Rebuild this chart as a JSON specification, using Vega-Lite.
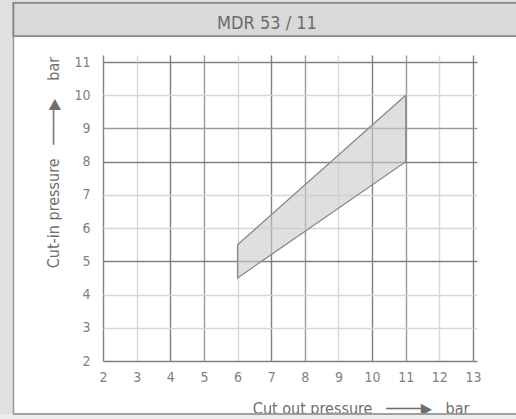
{
  "$schema": "https://vega.github.io/schema/vega-lite/v6.json",
  "width": 370,
  "height": 299,
  "autosize": {"type": "none"},
  "padding": {"left": 103, "top": 62, "right": 43, "bottom": 58},
  "background": "#ffffff",
  "config": {
    "view": {"stroke": null},
    "font": "DejaVu Sans Condensed, Liberation Sans, sans-serif",
    "axis": {"labelFont": "DejaVu Sans Condensed, Liberation Sans, sans-serif", "titleFont": "DejaVu Sans Condensed, Liberation Sans, sans-serif"}
  },
  "title": {
    "text": "MDR 53 / 11",
    "font": "DejaVu Sans Condensed, Liberation Sans, sans-serif",
    "fontSize": 18,
    "fontWeight": "normal",
    "color": "#6a6a6a",
    "anchor": "middle",
    "frame": "group",
    "baseline": "middle",
    "offset": 0,
    "dx": -21,
    "dy": 42,
    "zindex": 2
  },
  "data": {"values": [
    {"cutout": 6, "lo": 4.5, "hi": 5.5},
    {"cutout": 11, "lo": 8, "hi": 10}
  ]},
  "resolve": {"axis": {"x": "independent", "y": "independent"}},
  "layer": [
    {
      "mark": {"type": "rect", "fill": "#e0e0e0", "stroke": null},
      "encoding": {
        "x": {"datum": -1.1, "type": "quantitative", "axis": null, "scale": {"domain": [2, 13], "nice": false, "zero": false}},
        "x2": {"datum": -0.661},
        "y": {"datum": 0.2, "type": "quantitative", "axis": null, "scale": {"domain": [2, 11], "nice": false, "zero": false}},
        "y2": {"datum": 12.866}
      }
    },
    {
      "mark": {"type": "rect", "fill": "#e0e0e0", "stroke": null},
      "encoding": {
        "x": {"datum": -1.1, "type": "quantitative", "axis": null},
        "x2": {"datum": 14.3},
        "y": {"datum": 12.776, "type": "quantitative", "axis": null},
        "y2": {"datum": 12.866}
      }
    },
    {
      "mark": {"type": "rect", "fill": "#ececec", "stroke": null},
      "encoding": {
        "x": {"datum": -1.1, "type": "quantitative", "axis": null},
        "x2": {"datum": 14.3},
        "y": {"datum": 0.405, "type": "quantitative", "axis": null},
        "y2": {"datum": 0.2}
      }
    },
    {
      "mark": {"type": "rect", "fillOpacity": 0, "stroke": "#9a9a9a", "strokeWidth": 1.3},
      "encoding": {
        "x": {"datum": -0.661, "type": "quantitative", "axis": null},
        "x2": {"datum": 14.4},
        "y": {"datum": 0.405, "type": "quantitative", "axis": null},
        "y2": {"datum": 12.776}
      }
    },
    {
      "mark": {"type": "rect", "fill": "#d9d9d9", "stroke": "#858585", "strokeWidth": 1.6},
      "encoding": {
        "x": {"datum": -0.661, "type": "quantitative", "axis": null},
        "x2": {"datum": 14.4},
        "y": {"datum": 11.783, "type": "quantitative", "axis": null},
        "y2": {"datum": 12.776}
      }
    },
    {
      "mark": {"type": "area", "fill": "#c9c9ce", "fillOpacity": 0.6, "stroke": "#8a8a8a", "strokeWidth": 1.3, "strokeOpacity": 1},
      "encoding": {
        "x": {
          "field": "cutout", "type": "quantitative",
          "axis": {
            "orient": "bottom",
            "values": [2, 3, 4, 5, 6, 7, 8, 9, 10, 11, 12, 13],
            "domain": false, "ticks": false,
            "labelPadding": 9, "labelFontSize": 14, "labelColor": "#7f7f7f",
            "labelFlush": false,
            "grid": true, "gridWidth": 1.4,
            "gridColor": {
              "condition": [
                {"test": "datum.value % 3 === 0", "value": "#d6d6d6"},
                {"test": "datum.value === 5 || datum.value === 8 || datum.value === 11", "value": "#9a9a9a"}
              ],
              "value": "#808080"
            },
            "gridOpacity": 1,
            "title": "Cut out pressure\u00a0\u00a0 ────▶\u00a0\u00a0 bar",
            "titleFontSize": 16, "titleFontWeight": "normal", "titleColor": "#6e6e6e",
            "titleAnchor": "end", "titleAlign": "right", "titleBaseline": "middle",
            "titleX": 366, "titleY": 47
          }
        },
        "y": {
          "field": "hi", "type": "quantitative",
          "axis": {
            "orient": "left",
            "values": [2, 3, 4, 5, 6, 7, 8, 9, 10, 11],
            "domain": false, "ticks": false,
            "labelPadding": 13, "labelFontSize": 14, "labelColor": "#7f7f7f",
            "labelFlush": false,
            "grid": true, "gridWidth": 1.4,
            "gridColor": {
              "condition": [
                {"test": "indexof([3, 4, 6, 7, 10], datum.value) >= 0", "value": "#d6d6d6"},
                {"test": "datum.value === 9", "value": "#9a9a9a"}
              ],
              "value": "#808080"
            },
            "gridOpacity": 1,
            "title": "Cut-in pressure\u00a0\u00a0 ────▶\u00a0\u00a0\u00a0 bar",
            "titleFontSize": 16, "titleFontWeight": "normal", "titleColor": "#6e6e6e",
            "titleAngle": -90, "titleAlign": "center", "titleBaseline": "middle",
            "titleX": -50, "titleY": 100
          }
        },
        "y2": {"field": "lo"}
      }
    },
    {
      "mark": {"type": "point", "opacity": 0},
      "encoding": {
        "x": {
          "field": "cutout", "type": "quantitative",
          "axis": {
            "orient": "top",
            "values": [2, 3, 4, 5, 6, 7, 8, 9, 10, 11, 12, 13],
            "domain": false, "labels": false, "grid": false, "title": null,
            "ticks": true, "tickSize": 7, "tickWidth": 1.4,
            "tickColor": {
              "condition": [
                {"test": "datum.value % 3 === 0", "value": "#d6d6d6"},
                {"test": "datum.value === 5 || datum.value === 8 || datum.value === 11", "value": "#9a9a9a"}
              ],
              "value": "#808080"
            }
          }
        },
        "y": {
          "field": "hi", "type": "quantitative",
          "axis": {
            "orient": "right",
            "values": [2, 3, 4, 5, 6, 7, 8, 9, 10, 11],
            "domain": false, "labels": false, "grid": false, "title": null,
            "ticks": true, "tickSize": 4, "tickWidth": 1.4,
            "tickColor": {
              "condition": [
                {"test": "indexof([3, 4, 6, 7, 10], datum.value) >= 0", "value": "#d6d6d6"},
                {"test": "datum.value === 9", "value": "#9a9a9a"}
              ],
              "value": "#808080"
            }
          }
        }
      }
    }
  ]
}
